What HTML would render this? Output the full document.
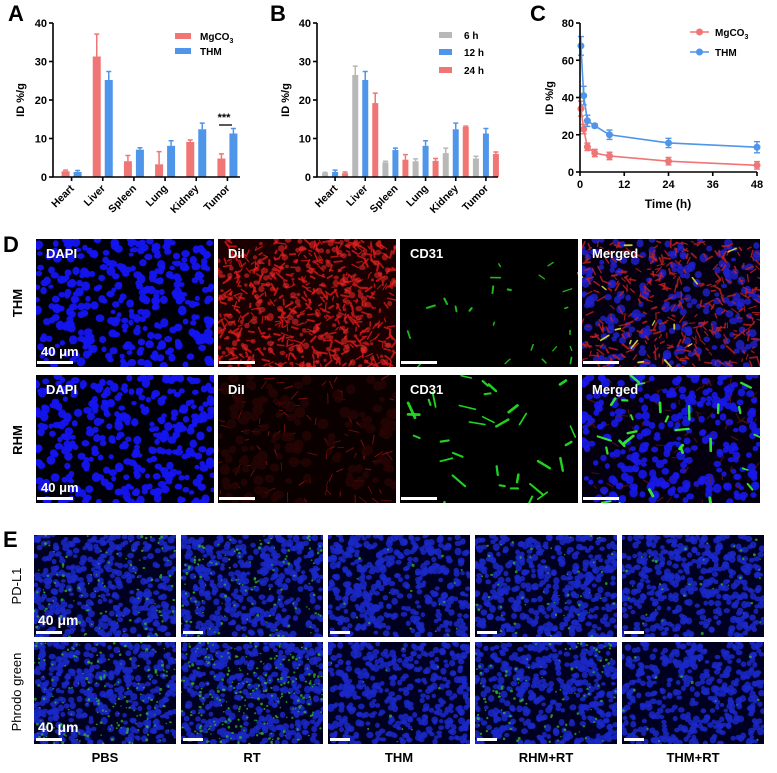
<!DOCTYPE html>
<html><head><meta charset="utf-8"><style>
html,body{margin:0;padding:0;background:#fff;}
svg{display:block;font-family:"Liberation Sans",Arial,sans-serif;}
</style></head><body>
<svg id="fig" width="777" height="773" viewBox="0 0 777 773" xmlns="http://www.w3.org/2000/svg">
<g id="root"></g>
</svg>
<script>
// ===== Panel A data =====
const organsA = ["Heart","Liver","Spleen","Lung","Kidney","Tumor"];
const mgco3A = [1.5,31.3,4.1,3.3,9.1,4.8];
const mgco3ErrA = [0.3,5.8,1.5,3.3,0.5,1.2];
const thmA = [1.3,25.2,7.1,8.1,12.4,11.3];
const thmErrA = [0.4,2.2,0.5,1.3,1.6,1.3];
const yTicksA = [0,10,20,30,40];
// ===== Panel B data =====
const organsB = ["Heart","Liver","Spleen","Lung","Kidney","Tumor"];
const h6B = [1.0,26.5,3.8,4.1,6.2,4.8];
const h6ErrB = [0.2,2.3,0.3,0.6,1.3,0.6];
const h12B = [1.3,25.2,7.0,8.1,12.4,11.3];
const h12ErrB = [0.5,2.2,0.5,1.3,1.6,1.3];
const h24B = [1.0,19.2,4.5,4.2,13.0,6.0];
const h24ErrB = [0.3,2.6,1.3,0.6,0.2,0.5];
const yTicksB = [0,10,20,30,40];
// ===== Panel C data =====
const timesC = [0.25,1,2,4,8,24,48];
const thmC = [67.7,41,27.5,24.8,20,15.6,13.3];
const thmErrC = [5,5,3,1,2.5,2.5,3];
const mgC = [34,23,13.5,10.2,8.6,5.8,3.6];
const mgErrC = [4,2.5,2,2,2,2,2];
const xTicksC = [0,12,24,36,48];
const yTicksC = [0,20,40,60,80];

const NS="http://www.w3.org/2000/svg";
const root=document.getElementById('root');
function el(tag,attrs,parent,text){const e=document.createElementNS(NS,tag);for(const k in attrs)e.setAttribute(k,attrs[k]);if(text!==undefined)e.textContent=text;(parent||root).appendChild(e);return e;}
const RED="#f07575", BLUE="#4f95ea", GREY="#b8b8b8";

function panelLetter(t,x,y){const e=el('text',{x:x,y:y,'font-size':22,'font-weight':'bold',fill:'#000'},root,t);

}
function yTitle(x,y,name){const e=el('text',{x:x,y:y,'font-size':11,'font-weight':'bold','text-anchor':'middle',transform:`rotate(-90 ${x} ${y})`},root,'ID %/g');

}

function barChart(opts){
  const g=el('g',{});
  
  
  const {x0,x1,yTop,yBot,ymax}=opts;
  const ys=v=>yBot-(v/ymax)*(yBot-yTop);
  const n=opts.cats.length, cw=(x1-x0)/n;
  const xc=i=>x0+cw*(i+0.5)+3;
  opts.series.forEach((s,si)=>{
    const off=(si-(opts.series.length-1)/2)*opts.gap;
    s.vals.forEach((v,i)=>{
      const cx=xc(i)+off, bw=opts.bw;
      const r=el('rect',{x:cx-bw/2,y:ys(v),width:bw,height:yBot-ys(v),fill:s.color},g);
      
      
      const et=ys(v+s.err[i]);
      const eb=el('path',{d:`M${cx} ${ys(v)}V${et}M${cx-2.5} ${et}H${cx+2.5}`,stroke:s.color,'stroke-width':1.5,fill:'none'},g);
      
      
    });
  });
  const ax=el('path',{d:`M${x0} ${yTop}V${yBot}H${x1}`,stroke:'#000','stroke-width':1.6,fill:'none'},g);
  
  
  opts.yticks.forEach(t=>{
    el('path',{d:`M${x0-4} ${ys(t)}H${x0}`,stroke:'#000','stroke-width':1.6},g);
    const tl=el('text',{x:x0-6,y:ys(t)+4,'font-size':11,'font-weight':'bold','text-anchor':'end'},g,t);
    
    
  });
  opts.cats.forEach((c,i)=>{
    const cx=xc(i);
    el('path',{d:`M${cx} ${yBot}V${yBot+4}`,stroke:'#000','stroke-width':1.6},g);
    const tl=el('text',{x:cx+3,y:yBot+12,'font-size':10.5,'font-weight':'bold','text-anchor':'end',transform:`rotate(-45 ${cx+3} ${yBot+12})`},g,c);
    
    
  });
  return {g,ys,xc};
}

panelLetter('A',8,21);
const A=barChart({name:'chart-a',x0:53,x1:240,yTop:23,yBot:177,ymax:40,cats:organsA,yticks:yTicksA,bw:8,gap:12,
 series:[{key:'mgco3',vals:mgco3A,err:mgco3ErrA,color:RED},{key:'thm',vals:thmA,err:thmErrA,color:BLUE}]});
yTitle(24,100,'y-axis-title-a');
el('text',{x:224,y:121,'font-size':11,'font-weight':'bold','text-anchor':'middle'},A.g,'***');
el('path',{d:'M219 125H232',stroke:'#000','stroke-width':1.3},A.g);
[['MgCO',RED,36],['THM',BLUE,51]].forEach(([t,c,y],i)=>{
  const lg=el('g',{});
  
  
  el('rect',{x:175,y:y-3,width:16,height:6,fill:c},lg);
  const tx=el('text',{x:200,y:y+4,'font-size':10,'font-weight':'bold'},lg,t);
  if(i===0){el('tspan',{'font-size':7,dy:3},tx,'3');}
});

panelLetter('B',270,21);
const B=barChart({name:'chart-b',x0:317,x1:498,yTop:23,yBot:177,ymax:40,cats:organsB,yticks:yTicksB,bw:6,gap:10,
 series:[{key:'6h',vals:h6B,err:h6ErrB,color:GREY},{key:'12h',vals:h12B,err:h12ErrB,color:BLUE},{key:'24h',vals:h24B,err:h24ErrB,color:RED}]});
yTitle(289,100,'y-axis-title-b');
[['6 h',GREY,35],['12 h',BLUE,52],['24 h',RED,70]].forEach(([t,c,y],i)=>{
  const lg=el('g',{});
  
  
  el('rect',{x:439,y:y-3,width:13,height:6,fill:c},lg);
  el('text',{x:464,y:y+4,'font-size':10,'font-weight':'bold'},lg,t);
});

panelLetter('C',530,21);
(function(){
  const g=el('g',{});
  
  
  const x0=580,x1=757,yTop=23,yBot=172;
  const xs=v=>x0+v/48*(x1-x0), ys=v=>yBot-v/80*(yBot-yTop);
  [[mgC,mgErrC,RED,'mgco3'],[thmC,thmErrC,BLUE,'thm']].forEach(([vals,errs,c,k])=>{
    const d=vals.map((v,i)=>(i?'L':'M')+xs(timesC[i])+' '+ys(v)).join('');
    const ln=el('path',{d,stroke:c,'stroke-width':1.6,fill:'none'},g);
    
    
    vals.forEach((v,i)=>{
      const x=xs(timesC[i]);
      el('path',{d:`M${x} ${ys(v-errs[i])}V${ys(v+errs[i])}M${x-3} ${ys(v-errs[i])}H${x+3}M${x-3} ${ys(v+errs[i])}H${x+3}`,stroke:c,'stroke-width':1.4,fill:'none'},g);
      const p=el('circle',{cx:x,cy:ys(v),r:3.5,fill:c},g);
      
      
    });
  });
  el('path',{d:`M${x0} ${yTop}V${yBot}H${x1}`,stroke:'#000','stroke-width':1.6,fill:'none'},g);
  yTicksC.forEach(t=>{el('path',{d:`M${x0-4} ${ys(t)}H${x0}`,stroke:'#000','stroke-width':1.6},g);
    el('text',{x:x0-6,y:ys(t)+4,'font-size':11,'font-weight':'bold','text-anchor':'end'},g,t);});
  xTicksC.forEach(t=>{el('path',{d:`M${xs(t)} ${yBot}V${yBot+4}`,stroke:'#000','stroke-width':1.6},g);
    el('text',{x:xs(t),y:yBot+16,'font-size':11,'font-weight':'bold','text-anchor':'middle'},g,t);});
  const xt=el('text',{x:668,y:208,'font-size':12,'font-weight':'bold','text-anchor':'middle'},g,'Time (h)');
  
  
  [['MgCO',RED,32],['THM',BLUE,52]].forEach(([t,c,y],i)=>{
    const lg=el('g',{},g);
    
    
    el('path',{d:`M690 ${y}H709`,stroke:c,'stroke-width':1.6},lg);
    el('circle',{cx:699.5,cy:y,r:3.5,fill:c},lg);
    const tx=el('text',{x:715,y:y+4,'font-size':10,'font-weight':'bold'},lg,t);
    if(i===0)el('tspan',{'font-size':7,dy:3},tx,'3');
  });
})();
yTitle(553,98,'y-axis-title-c');

// ---------- micrographs (texture only, seeded) ----------
let seed=12345;
function rnd(){seed=(seed*1103515245+12345)%2147483648;return seed/2147483648;}
function micro(x,y,w,h,bg,layers,name){
  const g=el('g',{});
  
  
  const cid='c'+Math.round(x)+'_'+Math.round(y);
  const cp=el('clipPath',{id:cid},g);el('rect',{x,y,width:w,height:h},cp);
  const inner=el('g',{'clip-path':`url(#${cid})`},g);
  el('rect',{x,y,width:w,height:h,fill:bg},inner);
  layers.forEach(L=>{
    const n=Math.round(L.d*w*h/1000);
    for(let i=0;i<n;i++){
      const cx=x+rnd()*w, cy=y+rnd()*h, r=L.r0+rnd()*(L.r1-L.r0);
      if(L.streak){const a=rnd()*Math.PI, l=L.streak*(0.4+rnd());
        el('path',{d:`M${cx} ${cy}l${Math.cos(a)*l} ${Math.sin(a)*l}`,stroke:L.c,'stroke-width':r,'stroke-linecap':'round',opacity:L.o},inner);}
      else el('ellipse',{cx,cy,rx:r,ry:r*(0.75+rnd()*0.4),fill:L.c,opacity:L.o},inner);
    }
  });
  return g;
}
function label(x,y,t,size){const e=el('text',{x,y,'font-size':size||13,'font-weight':'bold',fill:'#fff'},root,t);
  
  }
function scale(x,y,w){const e=el('rect',{x,y,width:w,height:3,fill:'#fff'});
  
  }

panelLetter('D',3,252);
const Dcols=[36,218,400,582], Drows=[239,375], DW=178, DH=128;
const dapi=[{d:15,c:'#1414f0',r0:2.5,r1:4.5,o:0.95}];
Drows.forEach((ry,ri)=>{
  const rn=ri?'rhm':'thm';
  micro(Dcols[0],ry,DW,DH,'#000008',dapi,'dapi-'+rn);
  micro(Dcols[1],ry,DW,DH,ri?'#0a0000':'#1a0000',ri?[{d:4,c:'#8a1010',r0:0.7,r1:1.3,o:0.8,streak:8},{d:6,c:'#2a0404',r0:3,r1:6,o:0.7}]:[{d:22,c:'#d81818',r0:1,r1:2.2,o:0.8,streak:6},{d:10,c:'#e52525',r0:1.5,r1:3.5,o:0.6}],'dil-'+rn);
  micro(Dcols[2],ry,DW,DH,'#000',ri?[{d:1.4,c:'#22dd22',r0:1.5,r1:3,o:0.95,streak:12}]:[{d:1.0,c:'#22cc22',r0:1.2,r1:2.2,o:0.9,streak:7}],'cd31-'+rn);
  micro(Dcols[3],ry,DW,DH,'#050010',ri?[{d:13,c:'#1818e8',r0:2.5,r1:4.5,o:0.9},{d:3,c:'#6a1818',r0:0.8,r1:1.5,o:0.7,streak:6},{d:1.2,c:'#33ee33',r0:1.5,r1:3,o:0.95,streak:10}]:[{d:10,c:'#2020d0',r0:2.5,r1:4.5,o:0.8},{d:16,c:'#c02020',r0:1,r1:2,o:0.8,streak:6},{d:0.6,c:'#e0e040',r0:1.2,r1:2,o:0.9,streak:7}],'merged-'+rn);
  ['DAPI','DiI','CD31','Merged'].forEach((t,ci)=>label(Dcols[ci]+10,ry+19,t));
  label(Dcols[0]+5,ry+117,'40 μm');
  Dcols.forEach(cx=>scale(cx+1,ry+122,36));
});
[['THM',303],['RHM',440]].forEach(([t,y])=>{const e=el('text',{x:22,y,'font-size':13,'font-weight':'bold','text-anchor':'middle',transform:`rotate(-90 22 ${y})`},root,t);
  
  });

panelLetter('E',3,547);
const Ecols=[34,181,328,475,622], Erows=[535,642], EW=142, EH=102;
const greenLevels=[[3,5],[3.5,7],[0.5,0.3],[1.5,3],[1,0.4]];
Erows.forEach((ry,ri)=>{
  Ecols.forEach((cx,ci)=>{
    const gl=greenLevels[ci][ri];
    micro(cx,ry,EW,EH,'#000020',[{d:28,c:'#1a28c8',r0:2.2,r1:3.6,o:0.85},{d:gl*2.5,c:'#2fb82f',r0:0.7,r1:1.5,o:0.75}],'micrograph-'+['pbs','rt','thm','rhm-rt','thm-rt'][ci]+(ri?'-phrodo':'-pdl1'));
    scale(cx+2,ry+EH-6,ci?20:26);
  });
  label(Ecols[0]+4,ry+EH-12,'40 μm',14);
});
[['PD-L1',586],['Phrodo green',692]].forEach(([t,y])=>{const e=el('text',{x:21,y,'font-size':13,'text-anchor':'middle',transform:`rotate(-90 21 ${y})`},root,t);
  
  });
['PBS','RT','THM','RHM+RT','THM+RT'].forEach((t,i)=>{const e=el('text',{x:Ecols[i]+EW/2,y:762,'font-size':13,'font-weight':'bold','text-anchor':'middle'},root,t);
  
  });
</script>
</body></html>
